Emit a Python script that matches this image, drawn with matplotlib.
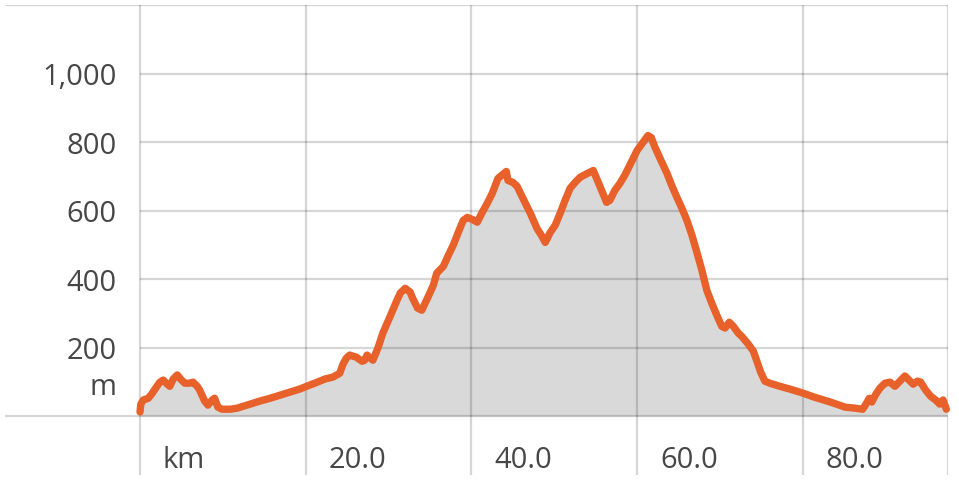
import matplotlib
matplotlib.use("Agg")
import matplotlib.pyplot as plt

dist_km = [0.0, 0.1, 0.4, 1.0, 1.4, 1.9, 2.4, 2.8, 3.3, 3.6, 4.0, 4.5, 4.9, 5.4, 6.0, 6.4, 6.9, 7.2,
           7.8, 8.2, 8.7, 9.0, 9.4, 9.9, 10.9, 11.7, 12.1, 13.3, 14.5, 15.7, 16.9, 18.1, 19.3, 19.9,
           21.4, 22.3, 23.3, 24.1, 24.5, 24.9, 25.3, 26.1, 26.8, 27.1, 27.4, 27.8, 28.1, 28.7, 29.3,
           30.2, 30.9, 31.4, 32.0, 32.6, 32.9, 33.5, 34.0, 34.8, 35.4, 35.8, 36.6, 37.2, 37.8, 38.4,
           39.0, 39.5, 40.1, 40.7, 41.3, 41.9, 42.5, 43.2, 43.8, 44.2, 44.4, 45.0, 45.5, 46.2, 47.1,
           47.9, 48.5, 48.9, 49.5, 50.1, 50.7, 51.3, 51.9, 52.5, 53.1, 53.8, 54.7, 55.1, 55.7, 56.3,
           56.7, 57.3, 57.9, 58.5, 59.1, 60.0, 60.7, 61.3, 61.7, 62.1, 62.7, 63.6, 64.2, 64.8, 65.4,
           66.0, 66.6, 67.2, 67.8, 68.4, 69.0, 69.7, 70.2, 70.6, 71.1, 71.6, 72.2, 72.6, 73.4, 74.0,
           74.4, 74.9, 75.4, 76.0, 77.2, 78.4, 80.0, 81.4, 83.3, 85.1, 86.3, 87.2, 87.6, 88.0, 88.3,
           88.8, 89.3, 89.9, 90.5, 91.1, 91.7, 92.3, 92.8, 93.3, 93.8, 94.2, 94.8, 95.4, 96.0, 96.5,
           96.9, 97.3]
elev_m = [12, 35, 47, 52, 64, 82, 99, 105, 93, 87, 108, 120, 108, 96, 96, 99, 87, 76,
          44, 32, 47, 52, 26, 20, 20, 23, 26, 35, 44, 52, 61, 70, 79, 85,
          99, 108, 114, 125, 152, 169, 178, 172, 160, 163, 178, 169, 163, 198, 242,
          292, 332, 359, 373, 362, 344, 315, 309, 350, 382, 417, 437, 469, 499, 536,
          571, 580, 574, 566, 595, 621, 650, 694, 706, 714, 688, 682, 671, 636, 592,
          548, 525, 507, 536, 557, 592, 630, 665, 682, 697, 706, 717, 694, 659, 624,
          630, 659, 679, 703, 732, 776, 799, 819, 813, 787, 755, 708, 671, 638, 606,
          571, 528, 478, 426, 367, 329, 289, 262, 257, 274, 262, 242, 233, 210, 190,
          163, 128, 102, 96, 87, 79, 67, 55, 41, 26, 23, 20, 35, 52, 41,
          64, 82, 96, 99, 87, 102, 117, 105, 93, 102, 99, 76, 58, 47, 35,
          47, 20]

y_ticks = [200, 400, 600, 800, 1000]
y_tick_labels = ["200", "400", "600", "800", "1,000"]
x_ticks = [0, 20, 40, 60, 80]
x_tick_labels = ["km", "20.0", "40.0", "60.0", "80.0"]
x_max = 97.5
y_top = 1200

W, H = 959, 487
fig = plt.figure(figsize=(W / 100, H / 100), dpi=100)
ax = fig.add_axes([5 / W, (H - 475) / H, 943 / W, 470 / H])
x_left = -135 / 8.2875
y_bottom = -172
ax.set_xlim(x_left, x_max)
ax.set_ylim(y_bottom, y_top)
ax.axis("off")

line_col = "#E8602A"
fill_col = "#D9D9D9"
grid_kw = dict(color="black", alpha=0.16, linewidth=1.6, zorder=2)
text_col = "#474747"
font = "Open Sans"
fs = 21

ax.fill_between(dist_km, elev_m, 0, color=fill_col, linewidth=0, zorder=1)

ax.vlines(x_ticks + [x_max], y_bottom, y_top, **grid_kw)
ax.hlines(y_ticks, 0, x_max, **grid_kw)
ax.hlines([0, y_top], x_left, x_max, **grid_kw)

ax.plot(dist_km, elev_m, color=line_col, linewidth=5.3, solid_joinstyle="round",
        solid_capstyle="round", zorder=3, clip_on=False)

px_km = 8.2875
px_m = 470 / (y_top - y_bottom)
lab_x = -23 / px_km
for v, lab in zip(y_ticks, y_tick_labels):
    ax.text(lab_x, v - 11.5 / px_m, lab, ha="right", va="baseline", fontsize=fs,
            color=text_col, family=font)
ax.text(lab_x, 21 / px_m, "m", ha="right", va="baseline", fontsize=fs,
        color=text_col, family=font)

for v, lab in zip(x_ticks, x_tick_labels):
    ax.text(v + 23 / px_km, -52 / px_m, lab, ha="left", va="baseline", fontsize=fs,
            color=text_col, family=font)

fig.savefig("out.png", dpi=100, facecolor="white")
